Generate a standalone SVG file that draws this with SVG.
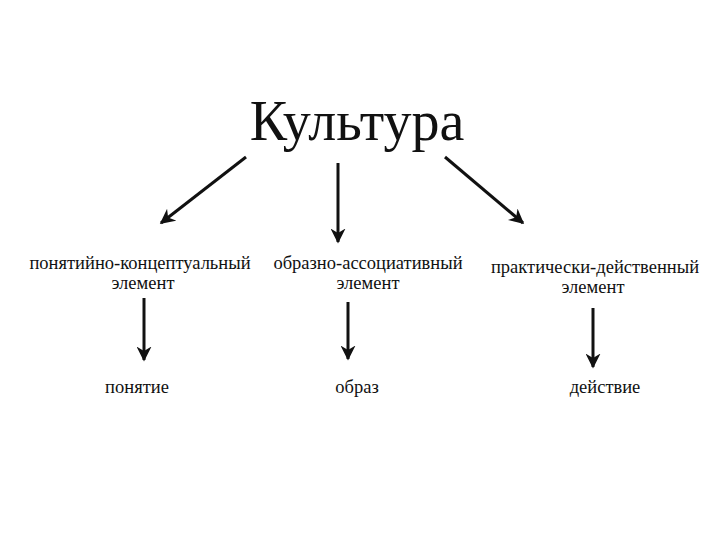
<svg xmlns="http://www.w3.org/2000/svg" width="720" height="540" viewBox="0 0 720 540">
<style>
.t{font-family:"Liberation Serif","Times New Roman",serif;fill:#111;text-anchor:middle}
.s{font-size:18.5px}
.c{stroke:#111;stroke-width:3;fill:none;marker-end:url(#ah)}
</style>
<defs>
<marker id="ah" viewBox="0 0 10 10" refX="9" refY="5" markerWidth="5" markerHeight="5" orient="auto" markerUnits="strokeWidth">
<path d="M0,0 L10,5 L0,10 L3,5 Z" fill="#111"/>
</marker>
</defs>
<rect width="720" height="540" fill="#fff"/>
<g id="root"><text class="t" x="357" y="140" font-size="56">Культура</text></g>
<g id="n1"><text class="t s" x="140" y="269">понятийно-концептуальный</text><text class="t s" x="143" y="289">элемент</text></g>
<g id="n2"><text class="t s" x="368" y="269">образно-ассоциативный</text><text class="t s" x="368" y="289">элемент</text></g>
<g id="n3"><text class="t s" x="595" y="273">практически-действенный</text><text class="t s" x="593" y="293">элемент</text></g>
<g id="b1"><text class="t s" x="137" y="393">понятие</text></g>
<g id="b2"><text class="t s" x="357" y="393">образ</text></g>
<g id="b3"><text class="t s" x="605" y="393">действие</text></g>
<g id="connectors">
<line class="c" x1="246" y1="157" x2="161" y2="223"/>
<line class="c" x1="338" y1="163" x2="338" y2="242"/>
<line class="c" x1="445" y1="157" x2="523" y2="223"/>
<line class="c" x1="144" y1="298" x2="144" y2="360"/>
<line class="c" x1="348" y1="302" x2="348" y2="359"/>
<line class="c" x1="593" y1="308" x2="593" y2="367"/>
</g>
</svg>
